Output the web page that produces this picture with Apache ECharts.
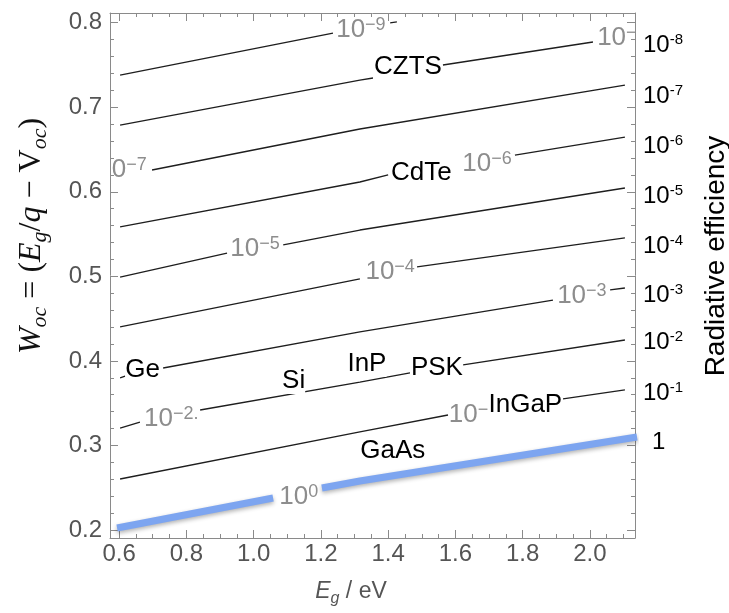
<!DOCTYPE html>
<html>
<head>
<meta charset="utf-8">
<script src="https://cdn.jsdelivr.net/npm/echarts@6/dist/echarts.min.js"></script>
<style>
html, body { margin: 0; padding: 0; background: #fff; }
#container { width: 729px; height: 613px; }
</style>
</head>
<body>
<div id="container"></div>
<script>
let chart = echarts.init(document.getElementById('container'));

// axis ranges and ticks
var xRange = [0.573, 2.134];
var yRange = [0.1905, 0.8115];
var xMajor = [0.6, 0.8, 1.0, 1.2, 1.4, 1.6, 1.8, 2.0];
var xMinor = [0.6, 0.65, 0.7, 0.75, 0.8, 0.85, 0.9, 0.95, 1.0, 1.05, 1.1, 1.15, 1.2, 1.25, 1.3, 1.35,
              1.4, 1.45, 1.5, 1.55, 1.6, 1.65, 1.7, 1.75, 1.8, 1.85, 1.9, 1.95, 2.0, 2.05, 2.1];
var yMajor = [0.2, 0.3, 0.4, 0.5, 0.6, 0.7, 0.8];
var yMinor = [0.2, 0.22, 0.24, 0.26, 0.28, 0.3, 0.32, 0.34, 0.36, 0.38, 0.4, 0.42, 0.44, 0.46, 0.48,
              0.5, 0.52, 0.54, 0.56, 0.58, 0.6, 0.62, 0.64, 0.66, 0.68, 0.7, 0.72, 0.74, 0.76, 0.78, 0.8];
// right axis: radiative efficiency labels
var effTicks = [0.3041, 0.362, 0.4224, 0.4779, 0.5359, 0.595, 0.6542, 0.7133, 0.7736];
var effTexts = ['1', '10^-1', '10^-2', '10^-3', '10^-4', '10^-5', '10^-6', '10^-7', '10^-8'];

// contour lines [Eg, Woc], '-' = gap where a label sits
var G = ['-', '-'];
var line0 = [[0.594, 0.2024], [1.058, 0.2378], G, [1.203, 0.2497], [1.316, 0.258], [2.14, 0.31]];
var line1 = [[0.603, 0.2603], [1.316, 0.3159], [1.578, 0.336], G, [1.920, 0.355], [2.104, 0.3656]];
var line2 = [[0.603, 0.3206], [0.662, 0.3277], G, [0.841, 0.3419], [1.316, 0.375], [1.465, 0.3857], G,
             [1.623, 0.3952], [2.104, 0.4247]];
var line3 = [[0.603, 0.3798], [0.618, 0.3821], G, [0.731, 0.3916], [1.316, 0.4342], [1.890, 0.472], G,
             [2.060, 0.4839], [2.104, 0.4862]];
var line4 = [[0.603, 0.4401], [1.316, 0.497], G, [1.486, 0.5111], [2.104, 0.5454]];
var line5 = [[0.603, 0.4992], [0.921, 0.5276], G, [1.088, 0.5371], [1.316, 0.5548], [2.104, 0.6045]];
var line6 = [[0.603, 0.5584], [1.316, 0.6116], [1.400, 0.6199], G, [1.777, 0.6435], [2.104, 0.6648]];
var line7 = [[0.698, 0.6258], [1.316, 0.6743], [2.104, 0.7263]];
var line8 = [[0.603, 0.679], [1.316, 0.7322], [1.355, 0.7346], G, [1.563, 0.75], [2.009, 0.7772]];
var line9 = [[0.603, 0.7381], [1.236, 0.7878], G, [1.406, 0.7997], [1.426, 0.8009]];

// contour labels
var contourTexts = ['10^0', '10^-1', '10^-2.', '10^-3', '10^-4', '10^-5', '10^-6', '10^-7', '10^-8', '10^-9'];
var contourPos = [[1.134, 0.239], [1.654, 0.336], [0.755, 0.3313], [1.976, 0.4768], [1.406, 0.5051],
                  [1.004, 0.5323], [1.694, 0.6329], [0.609, 0.6258], [2.095, 0.7819], [1.319, 0.7914]];

// materials
var materials = ['Ge', 'Si', 'InP', 'PSK', 'InGaP', 'GaAs', 'CdTe', 'CZTS'];
var materialPos = [[0.670, 0.3892], [1.119, 0.3762], [1.337, 0.3963], [1.545, 0.3916],
                   [1.808, 0.3478], [1.414, 0.2934], [1.499, 0.6222], [1.459, 0.7476]];

var sans = 'Liberation Sans';
var serif = 'Liberation Serif';
var frameColor = '#8a8a8a';

function frameAxis(pos, range, ticks, len, showLine) {
    return {
        type: 'value', position: pos, min: range[0], max: range[1],
        axisLine: { show: showLine, onZero: false, lineStyle: { color: frameColor, width: 1 } },
        axisTick: { show: true, inside: true, length: len, customValues: ticks,
                    lineStyle: { color: frameColor, width: 1 } },
        axisLabel: { show: false },
        splitLine: { show: false },
    };
}

function supText(t) {
    var parts = t.split('^');
    return '{b|' + parts[0] + '}{s|' + parts[1].replace('-', '\u2212') + '}';
}

var lines = [line0, line1, line2, line3, line4, line5, line6, line7, line8, line9];
var series = lines.map(function (d, i) {
    return {
        type: 'line', xAxisIndex: 0, yAxisIndex: 0, data: d,
        showSymbol: false, symbol: 'none', animation: false, silent: true, z: i == 0 ? 3 : 2,
        lineStyle: i == 0
            ? { color: '#7da5f0', width: 7, cap: 'butt', shadowColor: 'rgba(0,0,0,0.3)', shadowBlur: 4, shadowOffsetY: 2 }
            : { color: '#1e1e1e', width: 1.3 },
    };
});

series.push({
    type: 'custom', xAxisIndex: 0, yAxisIndex: 0, clip: true, z: 5, silent: true, animation: false,
    data: contourPos,
    renderItem: function (params, api) {
        var p = api.coord([api.value(0), api.value(1)]);
        return {
            type: 'text', x: p[0], y: p[1],
            style: {
                text: supText(contourTexts[params.dataIndex]), align: 'center', verticalAlign: 'middle',
                fill: '#8d8d8d', fontFamily: sans,
                rich: {
                    b: { fontSize: 26, lineHeight: 28, fill: '#8d8d8d', fontFamily: sans },
                    s: { fontSize: 18, lineHeight: 18, verticalAlign: 'top', fill: '#8d8d8d', fontFamily: sans },
                },
            },
        };
    },
});

series.push({
    type: 'custom', xAxisIndex: 0, yAxisIndex: 0, z: 6, silent: true, animation: false,
    data: materialPos,
    renderItem: function (params, api) {
        var p = api.coord([api.value(0), api.value(1)]);
        return {
            type: 'text', x: p[0], y: p[1],
            style: {
                text: materials[params.dataIndex], align: 'center', verticalAlign: 'middle',
                fill: '#000', fontFamily: sans, fontSize: 26, backgroundColor: '#fff',
            },
        };
    },
});

var option = {
    backgroundColor: '#fff',
    animation: false,
    grid: { left: 110, right: 94, top: 13, bottom: 75, containLabel: false, outerBoundsMode: 'none' },
    xAxis: [
        Object.assign(frameAxis('bottom', xRange, xMajor, 8, true), {
            axisLabel: { show: true, customValues: xMajor, margin: 4, color: '#555', fontSize: 24, fontFamily: sans,
                         formatter: function (v) { return v.toFixed(1); } },
        }),
        frameAxis('bottom', xRange, xMinor, 4, false),
        frameAxis('top', xRange, xMajor, 8, true),
        frameAxis('top', xRange, xMinor, 4, false),
    ],
    yAxis: [
        Object.assign(frameAxis('left', yRange, yMajor, 8, true), {
            axisLabel: { show: true, customValues: yMajor, margin: 8, color: '#555', fontSize: 24, fontFamily: sans,
                         formatter: function (v) { return v.toFixed(1); } },
        }),
        frameAxis('left', yRange, yMinor, 4, false),
        Object.assign(frameAxis('right', yRange, yMajor, 8, true), {
            axisLabel: {
                show: true, customValues: effTicks, margin: 8, color: '#000', fontFamily: sans,
                formatter: function (v) {
                    var i = effTicks.findIndex(function (t) { return Math.abs(t - v) < 1e-9; });
                    var t = effTexts[i];
                    if (t.indexOf('^') < 0) return '{one|' + t + '}';
                    var parts = t.split('^');
                    return '{b|' + parts[0] + '}{s|' + parts[1] + '}';
                },
                rich: {
                    b: { fontSize: 24, lineHeight: 26, color: '#000', fontFamily: sans },
                    s: { fontSize: 15, lineHeight: 15, verticalAlign: 'top', color: '#000', fontFamily: sans },
                    one: { fontSize: 24, lineHeight: 26, color: '#000', fontFamily: sans, padding: [0, 0, 0, 9] },
                },
            },
        }),
        frameAxis('right', yRange, yMinor, 4, false),
    ],
    graphic: [
        {
            type: 'text', x: 351, y: 592, silent: true,
            style: {
                text: '{i|E}{sub|g}{n| / eV}', align: 'center', verticalAlign: 'middle',
                rich: {
                    i: { fontSize: 23, lineHeight: 30, fontStyle: 'italic', fill: '#555', fontFamily: sans },
                    sub: { fontSize: 16, lineHeight: 14, verticalAlign: 'bottom', fontStyle: 'italic', fill: '#555', fontFamily: sans },
                    n: { fontSize: 23, lineHeight: 30, fill: '#555', fontFamily: sans },
                },
            },
        },
        {
            type: 'text', x: 32, y: 236, rotation: Math.PI / 2, silent: true,
            style: {
                text: '{i|W}{sub|oc}{n| = (}{i|E}{sub|g}{n|/}{i|q}{n| \u2212 V}{sub|oc}{n|)}',
                align: 'center', verticalAlign: 'middle',
                rich: {
                    i: { fontSize: 32, lineHeight: 38, fontStyle: 'italic', fill: '#111', fontFamily: serif },
                    sub: { fontSize: 22, lineHeight: 18, verticalAlign: 'bottom', fontStyle: 'italic', fill: '#111', fontFamily: serif },
                    n: { fontSize: 32, lineHeight: 38, fill: '#111', fontFamily: serif },
                },
            },
        },
        {
            type: 'text', x: 716, y: 256, rotation: Math.PI / 2, silent: true,
            style: { text: 'Radiative efficiency', align: 'center', verticalAlign: 'middle',
                     fontSize: 28, fill: '#000', fontFamily: sans },
        },
    ],
    series: series,
};

chart.setOption(option);
</script>
</body>
</html>
